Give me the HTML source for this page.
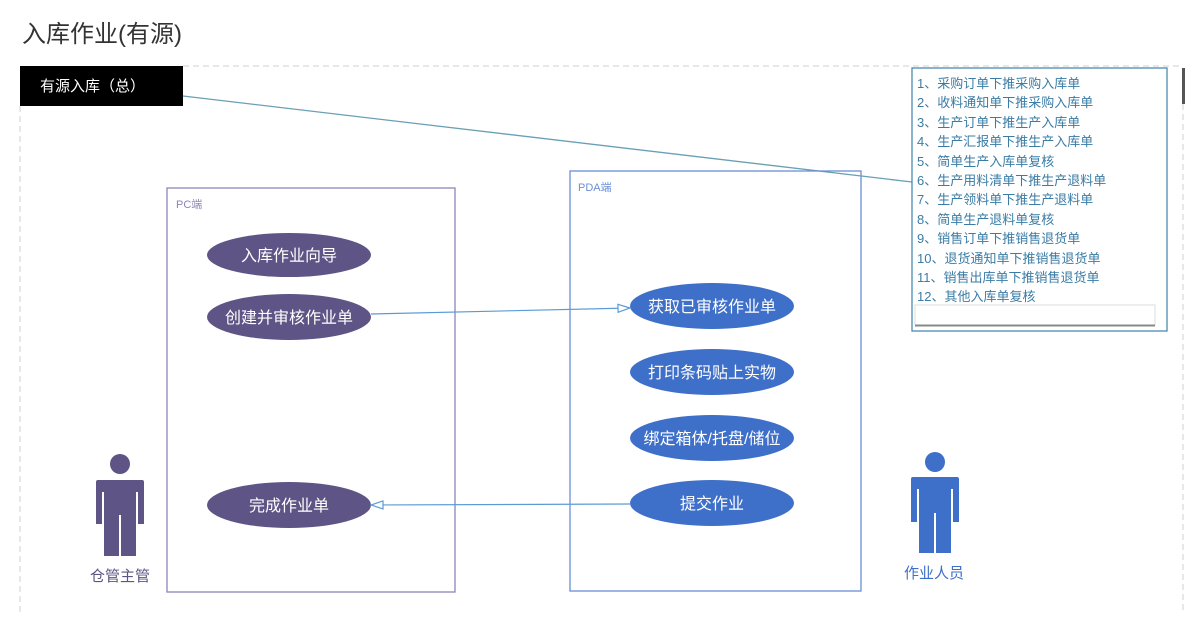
<!DOCTYPE html>
<html><head><meta charset="utf-8"><style>
body{margin:0;background:#fff;}
svg{display:block;font-family:"Liberation Sans","Noto Sans CJK SC",sans-serif;}
</style></head><body>
<svg width="1200" height="632" viewBox="0 0 1200 632" xmlns="http://www.w3.org/2000/svg">
<defs>
<marker id="tri" markerWidth="14" markerHeight="10" refX="13" refY="5" orient="auto" markerUnits="userSpaceOnUse">
<path d="M1,1 L13,5 L1,9 Z" fill="#fff" stroke="#5b9bd5" stroke-width="1.2"/>
</marker>
</defs>
<text x="22" y="42" font-size="24" fill="#333">入库作业(有源)</text>
<line x1="183" y1="66" x2="1183" y2="66" stroke="#d0d0d0" stroke-dasharray="6,4"/>
<line x1="20" y1="106" x2="20" y2="612" stroke="#d0d0d0" stroke-dasharray="6,4"/>
<line x1="1183" y1="104" x2="1183" y2="612" stroke="#d0d0d0" stroke-dasharray="6,4"/>
<rect x="1182" y="68" width="3" height="36" fill="#555"/>
<rect x="20" y="66" width="163" height="40" fill="#000"/>
<text x="40" y="91" font-size="15" fill="#fff">有源入库（总）</text>
<line x1="183" y1="96" x2="912" y2="182" stroke="#6a9fb5" stroke-width="1.3"/>
<rect x="912" y="68" width="255" height="263" fill="#fff" stroke="#4a8ab0" stroke-width="1.3"/>
<rect x="915" y="305" width="240" height="20" fill="#fff" stroke="#ddd"/>
<line x1="915" y1="325.5" x2="1155" y2="325.5" stroke="#888" stroke-width="2"/>
<g font-size="13" fill="#3a7ca5">
<text x="917" y="88">1、采购订单下推采购入库单</text>
<text x="917" y="107">2、收料通知单下推采购入库单</text>
<text x="917" y="127">3、生产订单下推生产入库单</text>
<text x="917" y="146">4、生产汇报单下推生产入库单</text>
<text x="917" y="166">5、简单生产入库单复核</text>
<text x="917" y="185">6、生产用料清单下推生产退料单</text>
<text x="917" y="204">7、生产领料单下推生产退料单</text>
<text x="917" y="224">8、简单生产退料单复核</text>
<text x="917" y="243">9、销售订单下推销售退货单</text>
<text x="917" y="263">10、退货通知单下推销售退货单</text>
<text x="917" y="282">11、销售出库单下推销售退货单</text>
<text x="917" y="301">12、其他入库单复核</text>
</g>
<rect x="167" y="188" width="288" height="404" fill="none" stroke="#8c86b8" stroke-width="1.3"/>
<text x="176" y="208" font-size="11" fill="#8c86b8">PC端</text>
<rect x="570" y="171" width="291" height="420" fill="none" stroke="#6a8fd8" stroke-width="1.3"/>
<text x="578" y="191" font-size="11" fill="#6a8fd8">PDA端</text>
<g fill="#5e5485">
<ellipse cx="289" cy="255" rx="82" ry="22"/>
<ellipse cx="289" cy="317" rx="82" ry="23"/>
<ellipse cx="289" cy="505" rx="82" ry="23"/>
</g>
<g fill="#3e6fc9">
<ellipse cx="712" cy="306" rx="82" ry="23"/>
<ellipse cx="712" cy="372" rx="82" ry="23"/>
<ellipse cx="712" cy="438" rx="82" ry="23"/>
<ellipse cx="712" cy="503" rx="82" ry="23"/>
</g>
<g font-size="16" fill="#fff" text-anchor="middle">
<text x="289" y="261">入库作业向导</text>
<text x="289" y="323">创建并审核作业单</text>
<text x="289" y="511">完成作业单</text>
<text x="712" y="312">获取已审核作业单</text>
<text x="712" y="378">打印条码贴上实物</text>
<text x="712" y="444">绑定箱体/托盘/储位</text>
<text x="712" y="509">提交作业</text>
</g>
<line x1="371" y1="314" x2="630" y2="308" stroke="#5b9bd5" stroke-width="1.2" marker-end="url(#tri)"/>
<line x1="630" y1="504" x2="371" y2="505" stroke="#5b9bd5" stroke-width="1.2" marker-end="url(#tri)"/>
<g fill="#5e5485">
<circle cx="120" cy="464" r="10"/>
<path d="M98,480 H142 Q144,480 144,482 V524 H138 V492 H136 V556 H121 V515 H119 V556 H104 V492 H102 V524 H96 V482 Q96,480 98,480Z"/>
</g>
<text x="120" y="581" font-size="15" fill="#5e5485" text-anchor="middle">仓管主管</text>
<g fill="#3e6fc9">
<circle cx="935" cy="462" r="10"/>
<path d="M913,477 H957 Q959,477 959,479 V522 H953 V489 H951 V553 H936 V513 H934 V553 H919 V489 H917 V522 H911 V479 Q911,477 913,477Z"/>
</g>
<text x="934" y="578" font-size="15" fill="#3e6fc9" text-anchor="middle">作业人员</text>
</svg>
</body></html>
